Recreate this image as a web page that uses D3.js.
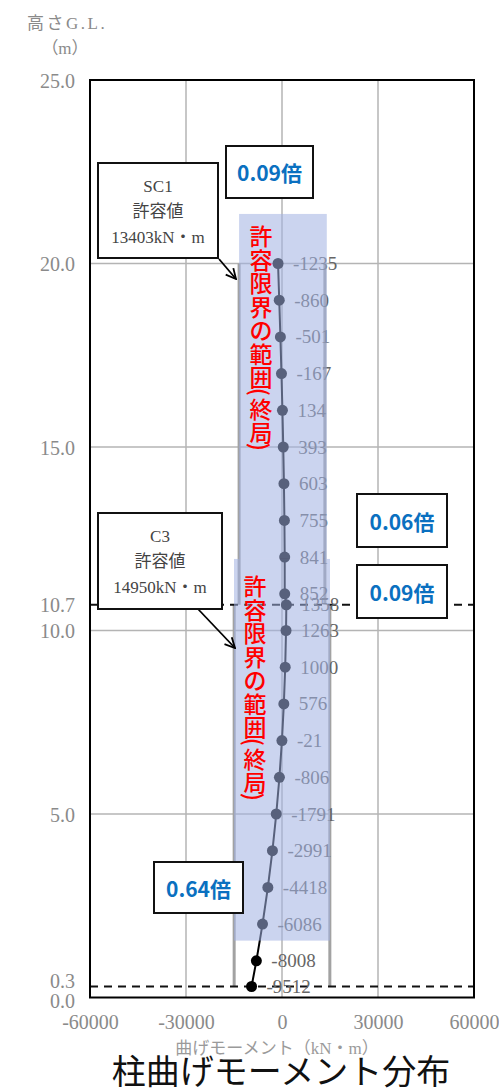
<!DOCTYPE html>
<html>
<head>
<meta charset="utf-8">
<script src="https://cdn.jsdelivr.net/npm/d3@7"></script>
<style>
  html, body { margin: 0; padding: 0; background: #fff; }
  svg { display: block; }
</style>
</head>
<body>
<svg id="chart" width="499" height="1091"></svg>
<script>
// Column bending moment along height (G.L., m)
const heightsSC1 = [20, 19, 18, 17, 16, 15, 14, 13, 12, 11, 10.7];
const momentsSC1 = [-1235, -860, -501, -167, 134, 393, 603, 755, 841, 852, 1358];
const heightsC3 = [10, 9, 8, 7, 6, 5, 4, 3, 2, 1, 0.3];
const momentsC3 = [1263, 1000, 576, -21, -806, -1791, -2991, -4418, -6086, -8008, -9512];

const xTicks = [-60000, -30000, 0, 30000, 60000];
const yTicks = [0, 0.3, 5, 10, 10.7, 15, 20, 25];
const xGrid = [-30000, 0, 30000];
const yGrid = [5, 10, 15, 20];
const dashedLevels = [10.7, 0.3];

// Allowable moments and their height ranges
const allowSC1 = 13403;
const allowC3 = 14950;
const rangeSC1 = [10.7, 20];
const rangeC3 = [0.3, 10.7];

// Shaded "許容限界の範囲" bands: [xmin, xmax, ymin, ymax]
const bandSC1 = [-13403, 14000, 11.95, 21.35];
const bandC3 = [-15000, 15000, 1.55, 11.95];

const bandText = "許容限界の範囲(終局)";
const ratioLabels = ["0.09倍", "0.06倍", "0.09倍", "0.64倍"];
const calloutSC1 = ["SC1", "許容値", "13403kN・m"];
const calloutC3 = ["C3", "許容値", "14950kN・m"];

const svg = d3.select("#chart");
const margin = { left: 90, right: 25, top: 80, bottom: 93.5 };
const W = 499, H = 1091;

const x = d3.scaleLinear().domain([-60000, 60000]).range([margin.left, W - margin.right]);
const y = d3.scaleLinear().domain([0, 25]).range([H - margin.bottom, margin.top]);

const serif = "'Liberation Serif', 'Noto Sans CJK JP', serif";
const sansJP = "'Noto Sans CJK JP', sans-serif";

// grid
svg.append("g").selectAll("line.hg").data(yGrid).join("line")
  .attr("x1", x(-60000)).attr("x2", x(60000))
  .attr("y1", d => y(d)).attr("y2", d => y(d))
  .attr("stroke", "#b4b4b4").attr("stroke-width", 1.5);
svg.append("g").selectAll("line.vg").data(xGrid).join("line")
  .attr("x1", d => x(d)).attr("x2", d => x(d))
  .attr("y1", y(0)).attr("y2", y(25))
  .attr("stroke", "#b4b4b4").attr("stroke-width", 1.5);

// allowable-moment lines
const allowLines = [
  { v: -allowSC1, r: rangeSC1 }, { v: allowSC1, r: rangeSC1 },
  { v: -allowC3, r: rangeC3 }, { v: allowC3, r: rangeC3 }
];
svg.append("g").selectAll("line").data(allowLines).join("line")
  .attr("x1", d => x(d.v)).attr("x2", d => x(d.v))
  .attr("y1", d => y(d.r[0])).attr("y2", d => y(d.r[1]))
  .attr("stroke", "#a2a2a2").attr("stroke-width", 3);

// dashed level lines
svg.append("g").selectAll("line").data(dashedLevels).join("line")
  .attr("x1", x(-60000)).attr("x2", x(60000))
  .attr("y1", d => y(d)).attr("y2", d => y(d))
  .attr("stroke", "#111").attr("stroke-width", 2)
  .attr("stroke-dasharray", "8,6");

// moment distribution
const pts = heightsSC1.map((h, i) => ({ h, m: momentsSC1[i] }))
  .concat(heightsC3.map((h, i) => ({ h, m: momentsC3[i] })));

const line = d3.line().x(d => x(d.m)).y(d => y(d.h));
svg.append("path").datum(pts)
  .attr("d", line).attr("fill", "none")
  .attr("stroke", "#000").attr("stroke-width", 2);
svg.append("g").selectAll("circle").data(pts).join("circle")
  .attr("cx", d => x(d.m)).attr("cy", d => y(d.h)).attr("r", 5.5)
  .attr("fill", "#000");
svg.append("g").selectAll("text").data(pts).join("text")
  .attr("x", d => x(d.m) + 15).attr("y", d => y(d.h))
  .attr("dominant-baseline", "central")
  .attr("font-family", serif).attr("font-size", 19)
  .attr("fill", "#666")
  .text(d => d.m);

// translucent bands
[bandSC1, bandC3].forEach(b => {
  svg.append("rect")
    .attr("x", x(b[0])).attr("width", x(b[1]) - x(b[0]))
    .attr("y", y(b[3])).attr("height", y(b[2]) - y(b[3]))
    .attr("fill", "rgb(160,176,226)").attr("fill-opacity", 0.55);
});

// vertical red band captions (parentheses turned for vertical writing)
function verticalCaption(cx, cy0) {
  const g = svg.append("g");
  const chars = Array.from(bandText);
  const isParen = c => c === "(" || c === ")";
  const adv = c => isParen(c) ? 8 : 23.5;
  let cy = cy0;
  chars.forEach((c, i) => {
    if (i > 0) cy += (adv(chars[i - 1]) + adv(c)) / 2;
    const t = g.append("text")
      .attr("x", cx).attr("y", cy)
      .attr("text-anchor", "middle").attr("dominant-baseline", "central")
      .attr("font-family", sansJP).attr("font-size", 23).attr("font-weight", 500)
      .attr("fill", "#ff0000").text(c);
    if (isParen(c)) t.attr("transform", `rotate(90,${cx},${cy})`);
  });
}
verticalCaption(261, 235);
verticalCaption(255, 585);

// frame
svg.append("rect")
  .attr("x", x(-60000)).attr("y", y(25))
  .attr("width", x(60000) - x(-60000)).attr("height", y(0) - y(25))
  .attr("fill", "none").attr("stroke", "#000").attr("stroke-width", 2);

// axes
const xAxis = d3.axisBottom(x).tickValues(xTicks).tickSize(0).tickPadding(0)
  .tickFormat(d3.format("d"));
const gx = svg.append("g").attr("transform", `translate(0,${y(0)})`).call(xAxis);
gx.select(".domain").remove();
gx.selectAll("text")
  .attr("y", 24).attr("dy", null).attr("dominant-baseline", "central")
  .attr("font-family", serif).attr("font-size", 20).attr("fill", "#8a8a8a")
  .text(d => d < 0 ? "-" + Math.abs(d) : d);

const yAxis = d3.axisLeft(y).tickValues(yTicks).tickSize(0).tickPadding(15)
  .tickFormat(d3.format(".1f"));
const gy = svg.append("g").attr("transform", `translate(${x(-60000)},0)`).call(yAxis);
gy.select(".domain").remove();
gy.selectAll("text")
  .attr("dy", null).attr("dominant-baseline", "central")
  .attr("font-family", serif).attr("font-size", 20).attr("fill", "#8a8a8a")
  .attr("transform", d => d === 0.3 ? "translate(0,-6)" : d === 0 ? "translate(0,3)" : null);

// axis titles
svg.append("text").attr("x", 27).attr("y", 23)
  .attr("dominant-baseline", "central")
  .attr("font-family", serif).attr("font-size", 17).attr("letter-spacing", 2.5)
  .attr("fill", "#8a8a8a").text("高さG.L.");
svg.append("text").attr("x", 65).attr("y", 48)
  .attr("text-anchor", "middle").attr("dominant-baseline", "central")
  .attr("font-family", serif).attr("font-size", 17)
  .attr("fill", "#8a8a8a").text("（m）");
svg.append("text").attr("x", 277).attr("y", 1048)
  .attr("text-anchor", "middle").attr("dominant-baseline", "central")
  .attr("font-family", serif).attr("font-size", 17)
  .attr("fill", "#9a9a9a").text("曲げモーメント（kN・m）");

// callouts with arrows
svg.append("defs").append("marker")
  .attr("id", "openArrow").attr("viewBox", "0 0 12 12")
  .attr("refX", 11).attr("refY", 6)
  .attr("markerWidth", 12).attr("markerHeight", 12)
  .attr("markerUnits", "userSpaceOnUse").attr("orient", "auto")
  .append("path").attr("d", "M1,1 L11,6 L1,11")
  .attr("fill", "none").attr("stroke", "#000").attr("stroke-width", 1.8);

function callout(bx, by, bw, bh, lines, from, to) {
  svg.append("line")
    .attr("x1", from[0]).attr("y1", from[1]).attr("x2", to[0]).attr("y2", to[1])
    .attr("stroke", "#000").attr("stroke-width", 1.8)
    .attr("marker-end", "url(#openArrow)");
  svg.append("rect").attr("x", bx).attr("y", by).attr("width", bw).attr("height", bh)
    .attr("fill", "#fff").attr("stroke", "#111").attr("stroke-width", 2);
  svg.append("g").selectAll("text").data(lines).join("text")
    .attr("x", bx + bw / 2).attr("y", (d, i) => by + 23 + i * 25.5)
    .attr("text-anchor", "middle").attr("dominant-baseline", "central")
    .attr("font-family", serif).attr("font-size", 17).attr("fill", "#444")
    .text(d => d);
}
callout(98, 163, 120, 95, calloutSC1, [219, 259], [236, 279]);
callout(98, 513, 124, 96, calloutC3, [198, 609], [235, 648]);

// ratio boxes
const ratioBoxes = [
  { x: 226, y: 146, w: 87, h: 52 },
  { x: 357, y: 494, w: 90, h: 53 },
  { x: 357, y: 565, w: 90, h: 53 },
  { x: 154, y: 862, w: 89, h: 51 }
];
ratioBoxes.forEach((b, i) => {
  svg.append("rect").attr("x", b.x).attr("y", b.y).attr("width", b.w).attr("height", b.h)
    .attr("fill", "#fff").attr("stroke", "#111").attr("stroke-width", 2);
  svg.append("text").attr("x", b.x + b.w / 2).attr("y", b.y + b.h / 2)
    .attr("text-anchor", "middle").attr("dominant-baseline", "central")
    .attr("font-family", sansJP).attr("font-size", 21).attr("font-weight", 700)
    .attr("fill", "#0a70c0").text(ratioLabels[i]);
});

// chart title
svg.append("text").attr("x", 281).attr("y", 1069)
  .attr("text-anchor", "middle").attr("dominant-baseline", "central")
  .attr("font-family", sansJP).attr("font-size", 34).attr("fill", "#111")
  .text("柱曲げモーメント分布");
</script>
</body>
</html>
